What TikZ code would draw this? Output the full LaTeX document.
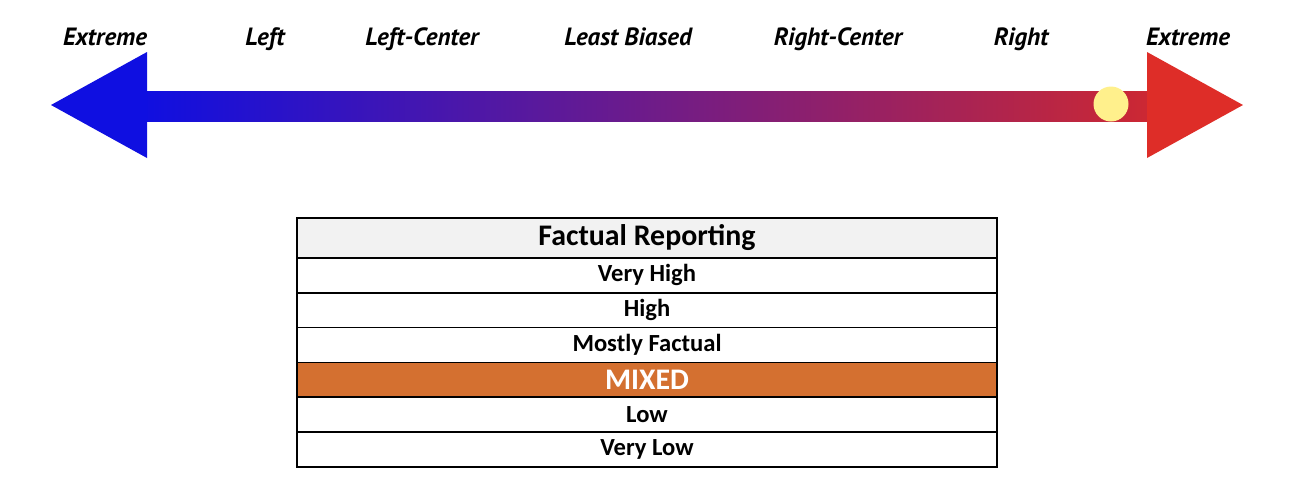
\documentclass[tikz,border=0pt]{standalone}
\usepackage{fontspec}
\setmainfont{Carlito}
\newfontfamily\biasfont{PT Sans}
\usetikzlibrary{positioning}
\definecolor{biasblue}{RGB}{15,15,225}
\definecolor{biasred}{RGB}{222,45,40}
\definecolor{shaftred}{RGB}{205,40,50}
\definecolor{mixedorange}{RGB}{212,112,48}
\definecolor{headgray}{RGB}{242,242,242}
\definecolor{dotyellow}{RGB}{255,240,140}
\begin{document}
\begin{tikzpicture}[x=0.02cm,y=-0.02cm,
	bias/.style={anchor=base, font=\biasfont\bfseries\itshape\fontsize{14.2}{16}\selectfont},
	row/.style={draw, line width=0.9pt, outer sep=0pt, minimum width=14cm, minimum height=0.696cm,
		inner sep=0pt, font=\bfseries\fontsize{14}{16}\selectfont}]
	\useasboundingbox (0,0) rectangle (1302,488);

	% bias arrow
	\shade[left color=biasblue, right color=shaftred] (140,91) rectangle (1155,121);
	\fill[biasblue] (51,105) -- (147,52) -- (147,158) -- cycle;
	\fill[biasred] (1243,105) -- (1147,52) -- (1147,158) -- cycle;
	\node[circle, fill=dotyellow, minimum size=0.7cm, inner sep=0pt] (dot) at (1111,104) {};

	\node[bias] (extl) at (105,45) {Extreme};
	\node[bias] (left) at (265,45) {Left};
	\node[bias] (lctr) at (422,45) {Left-Center};
	\node[bias] (least) at (628,45) {Least Biased};
	\node[bias] (rctr) at (838,45) {Right-Center};
	\node[bias] (right) at (1021,45) {Right};
	\node[bias] (extr) at (1188,45) {Extreme};

	% factual reporting table
	\node[row, fill=headgray, minimum height=0.8cm, font=\bfseries\fontsize{17}{19}\selectfont] (head) at (647,238) {Factual Reporting};
	\node[row, below=0pt of head] (vhigh) {Very High};
	\node[row, below=0pt of vhigh] (high) {High};
	\node[row, below=0pt of high] (mostly) {Mostly Factual};
	\node[row, below=0pt of mostly, fill=mixedorange, text=white, font=\bfseries\fontsize{17}{19}\selectfont] (mixed) {MIXED};
	\node[row, below=0pt of mixed] (low) {Low};
	\node[row, below=0pt of low] (vlow) {Very Low};
\end{tikzpicture}
\end{document}
